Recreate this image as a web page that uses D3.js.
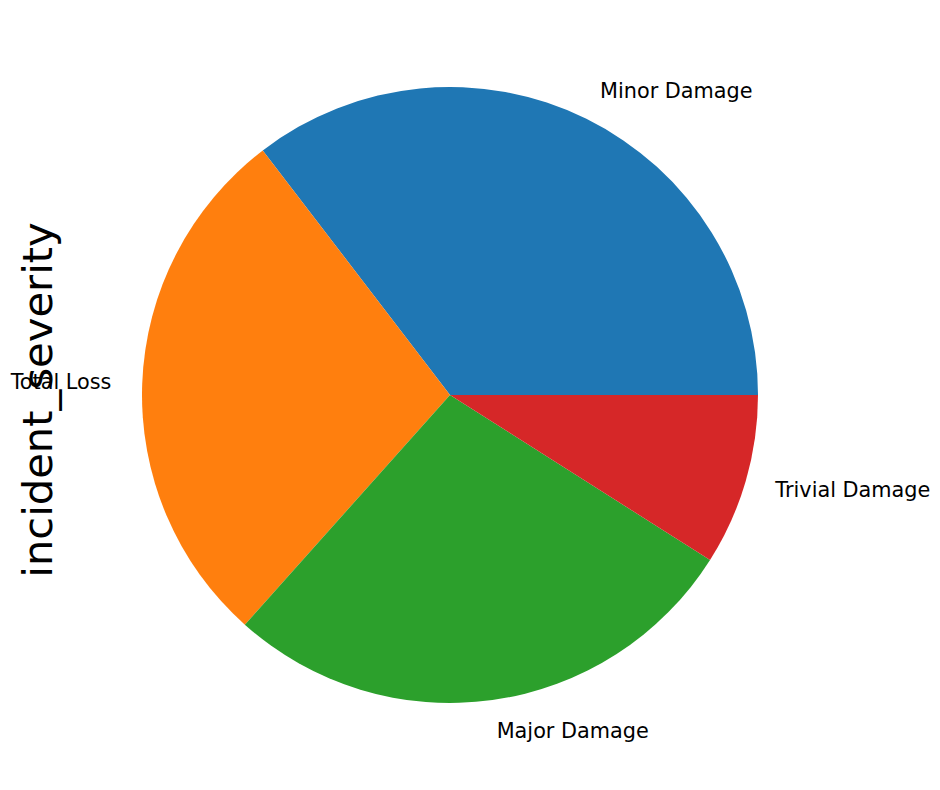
<!DOCTYPE html>
<html>
<head>
<meta charset="utf-8">
<script src="https://cdn.jsdelivr.net/npm/d3@7"></script>
<style>
  body { margin: 0; background: #fff; }
  svg { display: block; }
</style>
</head>
<body>
<script>
const categories = ["Minor Damage", "Total Loss", "Major Damage", "Trivial Damage"];
const counts = [354, 280, 276, 90];
const colors = ["#1f77b4", "#ff7f0e", "#2ca02c", "#d62728"];
const yLabel = "incident_severity";

const W = 940, H = 790;
const cx = 450, cy = 395, r = 308;

const svg = d3.select("body").append("svg").attr("width", W).attr("height", H);

const data = categories.map((c, i) => ({ cat: c, value: counts[i], color: colors[i] }));

// matplotlib: start at 3 o'clock, counter-clockwise
const pie = d3.pie().sort(null).value(d => d.value)
  .startAngle(Math.PI / 2).endAngle(Math.PI / 2 - 2 * Math.PI);
const arcs = pie(data);
const arc = d3.arc().innerRadius(0).outerRadius(r);

const g = svg.append("g").attr("transform", `translate(${cx},${cy})`);
g.selectAll("path").data(arcs).join("path")
  .attr("d", arc)
  .attr("fill", d => d.data.color);

g.selectAll("text.lbl").data(arcs).join("text")
  .attr("class", "lbl")
  .each(function(d) {
    const a = (d.startAngle + d.endAngle) / 2;
    const x = 1.1 * r * Math.sin(a);
    const y = -1.1 * r * Math.cos(a);
    d3.select(this)
      .attr("x", x).attr("y", y)
      .attr("text-anchor", Math.sin(a) >= 0 ? "start" : "end")
      .attr("dominant-baseline", "central");
  })
  .attr("font-family", "DejaVu Sans, sans-serif")
  .attr("font-size", "20.8px")
  .attr("fill", "#000")
  .text(d => d.data.cat);

svg.append("text")
  .attr("transform", `translate(52,400) rotate(-90)`)
  .attr("text-anchor", "middle")
  .attr("font-family", "DejaVu Sans, sans-serif")
  .attr("font-size", "41.67px")
  .attr("fill", "#000")
  .text(yLabel);
</script>
</body>
</html>
